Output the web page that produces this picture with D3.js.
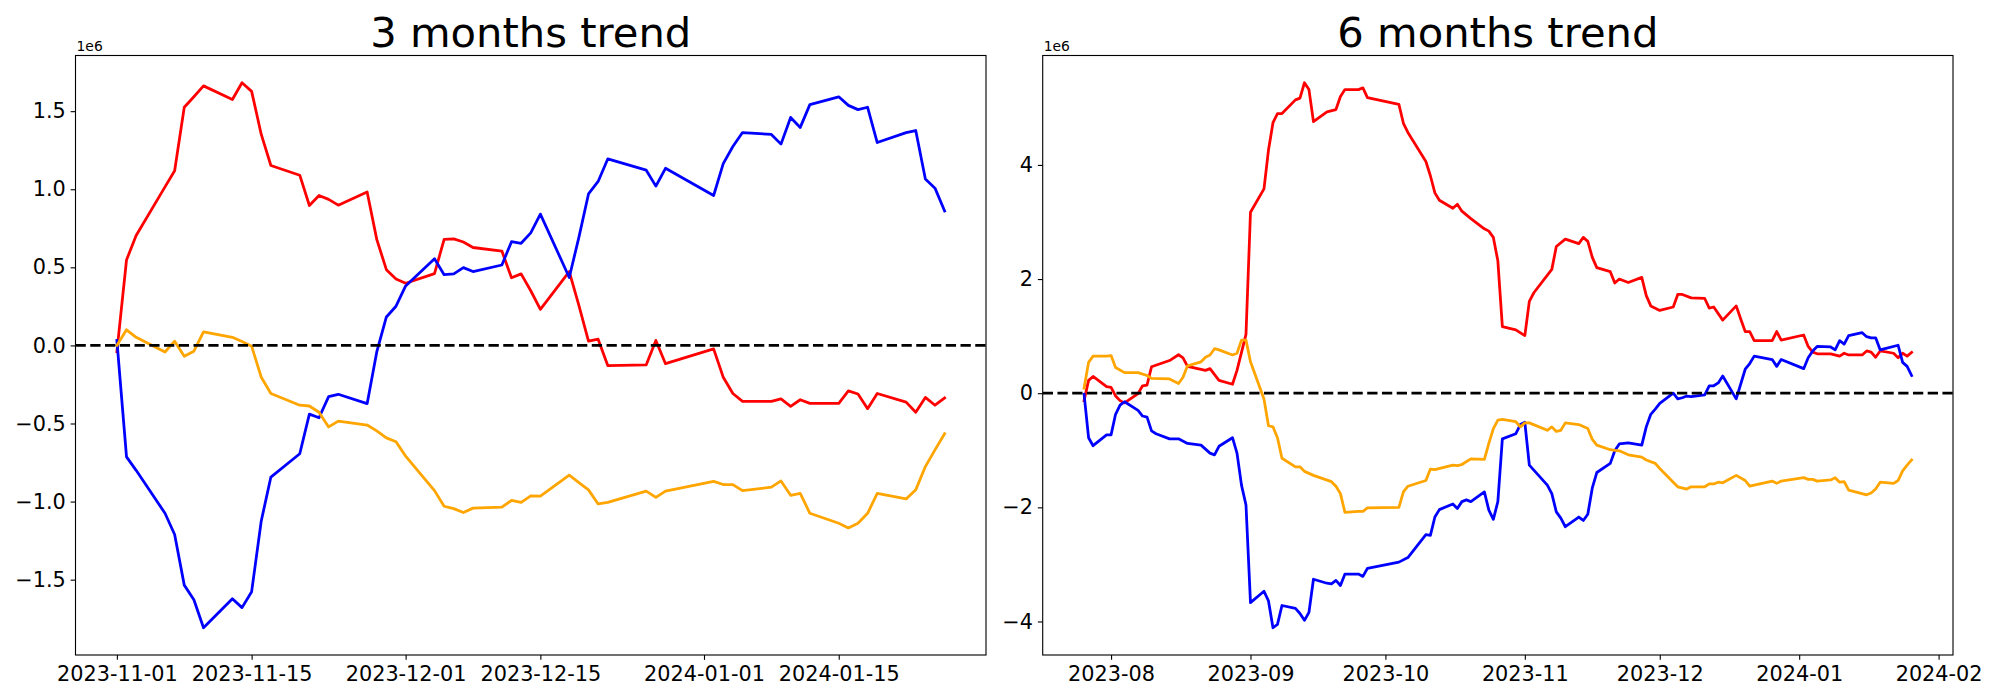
<!DOCTYPE html>
<html><head><meta charset="utf-8">
<script src="https://cdn.jsdelivr.net/npm/d3@7"></script>
<style>body{margin:0;background:#fff}svg{display:block}text{font-family:"DejaVu Sans",sans-serif;fill:#000}</style>
</head><body><svg id="c" width="2000" height="700"></svg>
<script>
// ---------- 3 months trend ----------
const threeDates = ["2023-11-01","2023-11-02","2023-11-03","2023-11-06","2023-11-07","2023-11-08","2023-11-09","2023-11-10","2023-11-13","2023-11-14","2023-11-15","2023-11-16","2023-11-17","2023-11-20","2023-11-21","2023-11-22","2023-11-23","2023-11-24","2023-11-27","2023-11-28","2023-11-29","2023-11-30","2023-12-01","2023-12-04","2023-12-05","2023-12-06","2023-12-07","2023-12-08","2023-12-11","2023-12-12","2023-12-13","2023-12-14","2023-12-15","2023-12-18","2023-12-19","2023-12-20","2023-12-21","2023-12-22","2023-12-26","2023-12-27","2023-12-28","2024-01-02","2024-01-03","2024-01-04","2024-01-05","2024-01-08","2024-01-09","2024-01-10","2024-01-11","2024-01-12","2024-01-15","2024-01-16","2024-01-17","2024-01-18","2024-01-19","2024-01-22","2024-01-23","2024-01-24","2024-01-25","2024-01-26"];
const threeRed = [-0.04,0.547,0.704,1.015,1.119,1.525,1.592,1.662,1.575,1.682,1.627,1.351,1.152,1.09,0.896,0.96,0.935,0.898,0.983,0.679,0.485,0.425,0.398,0.46,0.679,0.682,0.662,0.627,0.604,0.433,0.458,0.35,0.231,0.473,0.256,0.027,0.04,-0.129,-0.124,0.032,-0.117,-0.022,-0.204,-0.308,-0.358,-0.358,-0.343,-0.39,-0.348,-0.371,-0.371,-0.291,-0.311,-0.405,-0.308,-0.363,-0.428,-0.333,-0.383,-0.336];
const threeBlue = [0.032,-0.714,-0.80,-1.075,-1.211,-1.535,-1.629,-1.808,-1.622,-1.679,-1.577,-1.124,-0.843,-0.694,-0.44,-0.463,-0.328,-0.313,-0.373,-0.042,0.182,0.251,0.381,0.555,0.453,0.458,0.498,0.473,0.515,0.664,0.654,0.721,0.841,0.435,0.692,0.970,1.05,1.194,1.122,1.02,1.134,0.96,1.164,1.274,1.363,1.351,1.289,1.46,1.396,1.542,1.592,1.537,1.51,1.525,1.299,1.363,1.376,1.065,1.007,0.861];
const threeOrange = [0,0.1,0.052,-0.042,0.027,-0.07,-0.037,0.087,0.052,0.025,-0.005,-0.204,-0.308,-0.383,-0.388,-0.428,-0.522,-0.485,-0.51,-0.547,-0.592,-0.617,-0.709,-0.93,-1.03,-1.045,-1.07,-1.042,-1.035,-0.993,-1.005,-0.963,-0.965,-0.831,-0.878,-0.925,-1.015,-1.005,-0.933,-0.973,-0.933,-0.871,-0.891,-0.891,-0.93,-0.908,-0.868,-0.96,-0.948,-1.075,-1.139,-1.169,-1.139,-1.075,-0.948,-0.983,-0.925,-0.776,-0.669,-0.565];
const threeXTicks = ["2023-11-01","2023-11-15","2023-12-01","2023-12-15","2024-01-01","2024-01-15"];
const threeYTicks = [-1.5,-1.0,-0.5,0.0,0.5,1.0,1.5];

// ---------- 6 months trend ----------
const sixRedDates = ["2023-07-26","2023-07-27","2023-07-28","2023-07-31","2023-08-01","2023-08-02","2023-08-03","2023-08-04","2023-08-07","2023-08-08","2023-08-09","2023-08-10","2023-08-14","2023-08-16","2023-08-17","2023-08-18","2023-08-22","2023-08-23","2023-08-25","2023-08-28","2023-08-29","2023-08-31","2023-09-01","2023-09-04","2023-09-05","2023-09-06","2023-09-07","2023-09-08","2023-09-11","2023-09-12","2023-09-13","2023-09-14","2023-09-15","2023-09-18","2023-09-20","2023-09-21","2023-09-22","2023-09-25","2023-09-26","2023-09-27","2023-10-04","2023-10-05","2023-10-06","2023-10-10","2023-10-11","2023-10-12","2023-10-13","2023-10-16","2023-10-17","2023-10-18","2023-10-20","2023-10-23","2023-10-24","2023-10-25","2023-10-26","2023-10-27","2023-10-30","2023-11-01","2023-11-02","2023-11-03","2023-11-07","2023-11-08","2023-11-10","2023-11-13","2023-11-14","2023-11-15","2023-11-16","2023-11-17","2023-11-20","2023-11-21","2023-11-22","2023-11-24","2023-11-27","2023-11-28","2023-11-29","2023-12-01","2023-12-04","2023-12-05","2023-12-06","2023-12-08","2023-12-11","2023-12-12","2023-12-13","2023-12-15","2023-12-18","2023-12-19","2023-12-20","2023-12-21","2023-12-22","2023-12-26","2023-12-27","2023-12-28","2024-01-02","2024-01-03","2024-01-04","2024-01-05","2024-01-08","2024-01-10","2024-01-11","2024-01-12","2024-01-15","2024-01-16","2024-01-17","2024-01-18","2024-01-19","2024-01-22","2024-01-23","2024-01-24","2024-01-25","2024-01-26"];
const sixRed = [-0.13,0.225,0.293,0.116,0.102,-0.048,-0.13,-0.17,-0.007,0.13,0.143,0.463,0.572,0.674,0.62,0.47,0.40,0.43,0.225,0.157,0.40,1.03,3.17,3.58,4.26,4.74,4.90,4.90,5.14,5.17,5.44,5.32,4.76,4.93,4.97,5.20,5.32,5.32,5.35,5.18,5.06,4.73,4.57,4.06,3.81,3.51,3.38,3.24,3.31,3.19,3.06,2.88,2.84,2.73,2.32,1.165,1.11,1.01,1.61,1.76,2.17,2.57,2.70,2.62,2.73,2.66,2.38,2.20,2.13,1.93,2.00,1.94,2.03,1.71,1.53,1.45,1.51,1.73,1.73,1.67,1.66,1.49,1.51,1.28,1.53,1.30,1.08,1.08,0.92,0.92,1.08,0.93,1.02,0.82,0.72,0.69,0.69,0.65,0.70,0.67,0.67,0.74,0.72,0.63,0.74,0.70,0.62,0.70,0.65,0.715];
const sixBlueDates = ["2023-07-26","2023-07-27","2023-07-28","2023-07-31","2023-08-01","2023-08-02","2023-08-03","2023-08-04","2023-08-07","2023-08-08","2023-08-09","2023-08-10","2023-08-11","2023-08-14","2023-08-16","2023-08-18","2023-08-21","2023-08-23","2023-08-24","2023-08-25","2023-08-28","2023-08-29","2023-08-30","2023-08-31","2023-09-01","2023-09-04","2023-09-05","2023-09-06","2023-09-07","2023-09-08","2023-09-11","2023-09-12","2023-09-13","2023-09-14","2023-09-15","2023-09-18","2023-09-19","2023-09-20","2023-09-21","2023-09-22","2023-09-25","2023-09-26","2023-09-27","2023-10-04","2023-10-06","2023-10-10","2023-10-11","2023-10-12","2023-10-13","2023-10-16","2023-10-17","2023-10-18","2023-10-19","2023-10-20","2023-10-23","2023-10-24","2023-10-25","2023-10-26","2023-10-27","2023-10-30","2023-10-31","2023-11-01","2023-11-02","2023-11-06","2023-11-07","2023-11-08","2023-11-09","2023-11-10","2023-11-13","2023-11-14","2023-11-15","2023-11-16","2023-11-17","2023-11-20","2023-11-21","2023-11-22","2023-11-24","2023-11-27","2023-11-28","2023-11-29","2023-11-30","2023-12-01","2023-12-04","2023-12-05","2023-12-06","2023-12-07","2023-12-08","2023-12-11","2023-12-12","2023-12-13","2023-12-14","2023-12-15","2023-12-18","2023-12-20","2023-12-21","2023-12-22","2023-12-26","2023-12-27","2023-12-28","2024-01-02","2024-01-03","2024-01-04","2024-01-05","2024-01-08","2024-01-09","2024-01-10","2024-01-11","2024-01-12","2024-01-15","2024-01-16","2024-01-17","2024-01-18","2024-01-19","2024-01-23","2024-01-24","2024-01-25","2024-01-26"];
const sixBlue = [-0.02,-0.78,-0.92,-0.73,-0.73,-0.37,-0.21,-0.15,-0.30,-0.40,-0.42,-0.66,-0.71,-0.80,-0.80,-0.88,-0.91,-1.05,-1.08,-0.93,-0.78,-1.05,-1.61,-1.96,-3.67,-3.47,-3.64,-4.11,-4.05,-3.72,-3.77,-3.86,-3.98,-3.84,-3.26,-3.33,-3.34,-3.28,-3.37,-3.17,-3.17,-3.21,-3.07,-2.96,-2.88,-2.48,-2.49,-2.17,-2.04,-1.94,-2.02,-1.90,-1.87,-1.90,-1.73,-2.05,-2.21,-1.90,-0.80,-0.71,-0.55,-0.51,-1.26,-1.61,-1.76,-2.08,-2.19,-2.34,-2.17,-2.23,-2.12,-1.66,-1.39,-1.23,-1.01,-0.89,-0.87,-0.91,-0.59,-0.37,-0.28,-0.18,0.0,-0.10,-0.08,-0.05,-0.06,-0.03,0.13,0.13,0.18,0.30,-0.10,0.42,0.52,0.65,0.59,0.47,0.59,0.43,0.62,0.74,0.82,0.81,0.76,0.92,0.86,1.01,1.06,0.99,0.97,0.97,0.76,0.84,0.54,0.47,0.31];
const sixOrangeDates = ["2023-07-26","2023-07-27","2023-07-28","2023-07-31","2023-08-01","2023-08-02","2023-08-04","2023-08-07","2023-08-09","2023-08-10","2023-08-14","2023-08-16","2023-08-17","2023-08-18","2023-08-21","2023-08-22","2023-08-23","2023-08-24","2023-08-25","2023-08-28","2023-08-29","2023-08-30","2023-08-31","2023-09-01","2023-09-04","2023-09-05","2023-09-06","2023-09-07","2023-09-08","2023-09-11","2023-09-12","2023-09-13","2023-09-15","2023-09-19","2023-09-20","2023-09-21","2023-09-22","2023-09-25","2023-09-26","2023-09-27","2023-10-04","2023-10-05","2023-10-06","2023-10-10","2023-10-11","2023-10-12","2023-10-16","2023-10-17","2023-10-18","2023-10-20","2023-10-23","2023-10-24","2023-10-25","2023-10-26","2023-10-27","2023-10-30","2023-10-31","2023-11-01","2023-11-02","2023-11-06","2023-11-07","2023-11-08","2023-11-09","2023-11-10","2023-11-13","2023-11-15","2023-11-16","2023-11-17","2023-11-20","2023-11-21","2023-11-22","2023-11-24","2023-11-27","2023-11-28","2023-11-30","2023-12-01","2023-12-04","2023-12-05","2023-12-07","2023-12-08","2023-12-11","2023-12-12","2023-12-13","2023-12-14","2023-12-15","2023-12-18","2023-12-20","2023-12-21","2023-12-22","2023-12-26","2023-12-27","2023-12-28","2024-01-02","2024-01-03","2024-01-04","2024-01-05","2024-01-08","2024-01-09","2024-01-10","2024-01-11","2024-01-12","2024-01-16","2024-01-17","2024-01-18","2024-01-19","2024-01-22","2024-01-23","2024-01-24","2024-01-25","2024-01-26"];
const sixOrange = [0.09,0.54,0.65,0.65,0.66,0.45,0.36,0.36,0.31,0.26,0.25,0.17,0.28,0.48,0.55,0.63,0.67,0.78,0.76,0.67,0.70,0.93,0.93,0.55,-0.10,-0.57,-0.59,-0.78,-1.14,-1.29,-1.29,-1.37,-1.44,-1.55,-1.63,-1.76,-2.09,-2.07,-2.07,-2.01,-2.00,-1.73,-1.63,-1.53,-1.33,-1.34,-1.26,-1.27,-1.25,-1.15,-1.16,-0.88,-0.62,-0.47,-0.46,-0.50,-0.59,-0.52,-0.52,-0.65,-0.59,-0.67,-0.65,-0.52,-0.55,-0.62,-0.81,-0.91,-0.99,-1.00,-1.01,-1.08,-1.12,-1.17,-1.23,-1.32,-1.56,-1.64,-1.68,-1.64,-1.64,-1.59,-1.59,-1.56,-1.57,-1.44,-1.53,-1.63,-1.61,-1.54,-1.58,-1.54,-1.48,-1.51,-1.51,-1.54,-1.52,-1.48,-1.56,-1.55,-1.70,-1.78,-1.75,-1.68,-1.56,-1.58,-1.53,-1.36,-1.26,-1.17];
const sixXTicks = ["2023-08-01","2023-09-01","2023-10-01","2023-11-01","2023-12-01","2024-01-01","2024-02-01"];
const sixYTicks = [-4,-2,0,2,4];

const SCALE = 1e6;
const parse = d3.utcParse("%Y-%m-%d");
const svg = d3.select("#c");
svg.append("rect").attr("width",2000).attr("height",700).attr("fill","#fff");

function panel(cfg){
  const {left,right,top,bottom,series,title,xTicks,xFmt,yTicks,yFmt,id} = cfg;
  const allDates = series.flatMap(s=>s.dates.map(parse));
  const allVals = series.flatMap(s=>s.values);
  const [d0,d1] = d3.extent(allDates);
  const dm = (d1-d0)*0.05;
  const x = d3.scaleUtc().domain([new Date(+d0-dm), new Date(+d1+dm)]).range([left,right]);
  const [v0,v1] = d3.extent(allVals);
  const vm = (v1-v0)*0.05;
  const y = d3.scaleLinear().domain([(v0-vm)*SCALE,(v1+vm)*SCALE]).range([bottom,top]);
  const g = svg.append("g");
  g.append("clipPath").attr("id",id).append("rect").attr("x",left).attr("y",top).attr("width",right-left).attr("height",bottom-top);
  const plot = g.append("g").attr("clip-path",`url(#${id})`);
  const line = d3.line().x(d=>x(d[0])).y(d=>y(d[1]));
  series.forEach(s=>{
    const pts = s.dates.map((d,i)=>[parse(d), s.values[i]*SCALE]);
    plot.append("path").attr("d",line(pts)).attr("fill","none").attr("stroke",s.color)
      .attr("stroke-width",2.78).attr("stroke-linejoin","round").attr("stroke-linecap","square");
  });
  plot.append("line").attr("x1",left).attr("x2",right).attr("y1",y(0)).attr("y2",y(0))
    .attr("stroke","#000").attr("stroke-width",2.78).attr("stroke-dasharray","10.3 4.45");
  // axes
  const xa = d3.axisBottom(x).tickValues(xTicks.map(parse)).tickFormat(xFmt).tickSize(4.86).tickPadding(4.86);
  const ya = d3.axisLeft(y).tickValues(yTicks.map(v=>v*SCALE)).tickFormat(v=>yFmt(v/SCALE)).tickSize(4.86).tickPadding(4.86);
  const gx = g.append("g").attr("transform",`translate(0,${bottom})`).call(xa);
  const gy = g.append("g").attr("transform",`translate(${left},0)`).call(ya);
  [gx,gy].forEach(a=>{
    a.select(".domain").remove();
    a.selectAll(".tick line").attr("stroke","#000").attr("stroke-width",1.11);
    a.selectAll(".tick text").attr("font-size","20.8px").attr("font-family","DejaVu Sans").attr("fill","#000");
  });
  gx.selectAll(".tick text").attr("dy","0.78em");
  g.append("rect").attr("x",left).attr("y",top).attr("width",right-left).attr("height",bottom-top)
    .attr("fill","none").attr("stroke","#000").attr("stroke-width",1.11);
  g.append("text").attr("x",left+1).attr("y",top-5).attr("font-size","13.9px").text("1e6");
  g.append("text").attr("x",(left+right)/2).attr("y",top-8.3).attr("text-anchor","middle")
    .attr("font-size","41.7px").text(title);
}

panel({id:"c1",left:75.5,right:986,top:55.5,bottom:655,title:"3 months trend",
  series:[{dates:threeDates,values:threeRed,color:"red"},{dates:threeDates,values:threeBlue,color:"blue"},{dates:threeDates,values:threeOrange,color:"orange"}],
  xTicks:threeXTicks,xFmt:d3.utcFormat("%Y-%m-%d"),yTicks:threeYTicks,yFmt:d3.format(".1f")});
panel({id:"c2",left:1042.7,right:1953,top:55.5,bottom:655,title:"6 months trend",
  series:[{dates:sixRedDates,values:sixRed,color:"red"},{dates:sixBlueDates,values:sixBlue,color:"blue"},{dates:sixOrangeDates,values:sixOrange,color:"orange"}],
  xTicks:sixXTicks,xFmt:d3.utcFormat("%Y-%m"),yTicks:sixYTicks,yFmt:d3.format("d")});
</script></body></html>
